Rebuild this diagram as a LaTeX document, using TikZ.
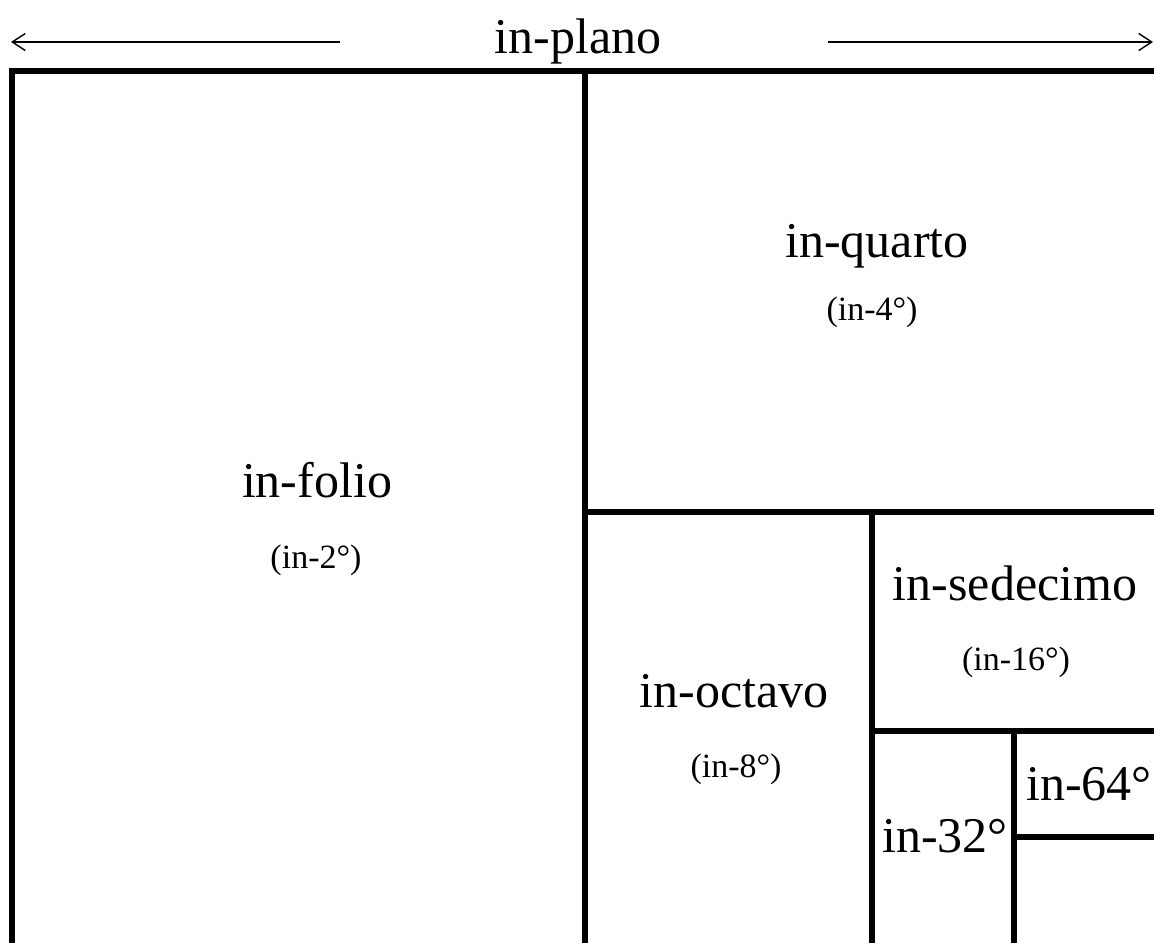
\documentclass[tikz,border=0pt]{standalone}
\usepackage{fontspec}
\setmainfont{Liberation Serif}
\usetikzlibrary{arrows.meta}
\begin{document}
\begin{tikzpicture}[x=1bp,y=-1bp,
  frame/.style={line width=5.5bp, black, line join=miter},
  big/.style={font=\fontsize{50bp}{60bp}\selectfont, anchor=base, inner sep=0pt},
  small/.style={font=\fontsize{34bp}{40bp}\selectfont, anchor=base, inner sep=0pt},
  span/.style={line width=1.4bp, -{Straight Barb[length=13bp,width=17bp]}}]
\useasboundingbox (0,0) rectangle (1154,943);
\begin{scope}
\clip (0,0) rectangle (1154,943);
% outer frame and divisions
\draw[frame] (12,970) -- (12,71) -- (1180,71);
\draw[frame] (585,71) -- (585,970);
\draw[frame] (585,512) -- (1180,512);
\draw[frame] (872,512) -- (872,970);
\draw[frame] (872,731) -- (1180,731);
\draw[frame] (1014,731) -- (1014,970);
\draw[frame] (1014,837) -- (1180,837);
\end{scope}
% title and span arrows
\node[big] (plano) at (578,53) {in-plano};
\coordinate (ls) at (340,42);
\coordinate (le) at (11,42);
\coordinate (rs) at (828,42);
\coordinate (re) at (1153,42);
\draw[span] (ls) -- (le);
\draw[span] (rs) -- (re);
% labels
\node[big] (folio) at (317,497) {in-folio};
\node[small] (folion) at (316,568) {(in-2°)};
\node[big] (quarto) at (877,257) {in-quarto};
\node[small] (quarton) at (872,320) {(in-4°)};
\node[big] (octavo) at (734,707) {in-octavo};
\node[small] (octavon) at (736,777) {(in-8°)};
\node[big] (sedecimo) at (1015,600) {in-sedecimo};
\node[small] (sedecimon) at (1016,670) {(in-16°)};
\node[big] (tt) at (945,852) {in-32°};
\node[big] (sf) at (1089,800) {in-64°};
\end{tikzpicture}
\end{document}
